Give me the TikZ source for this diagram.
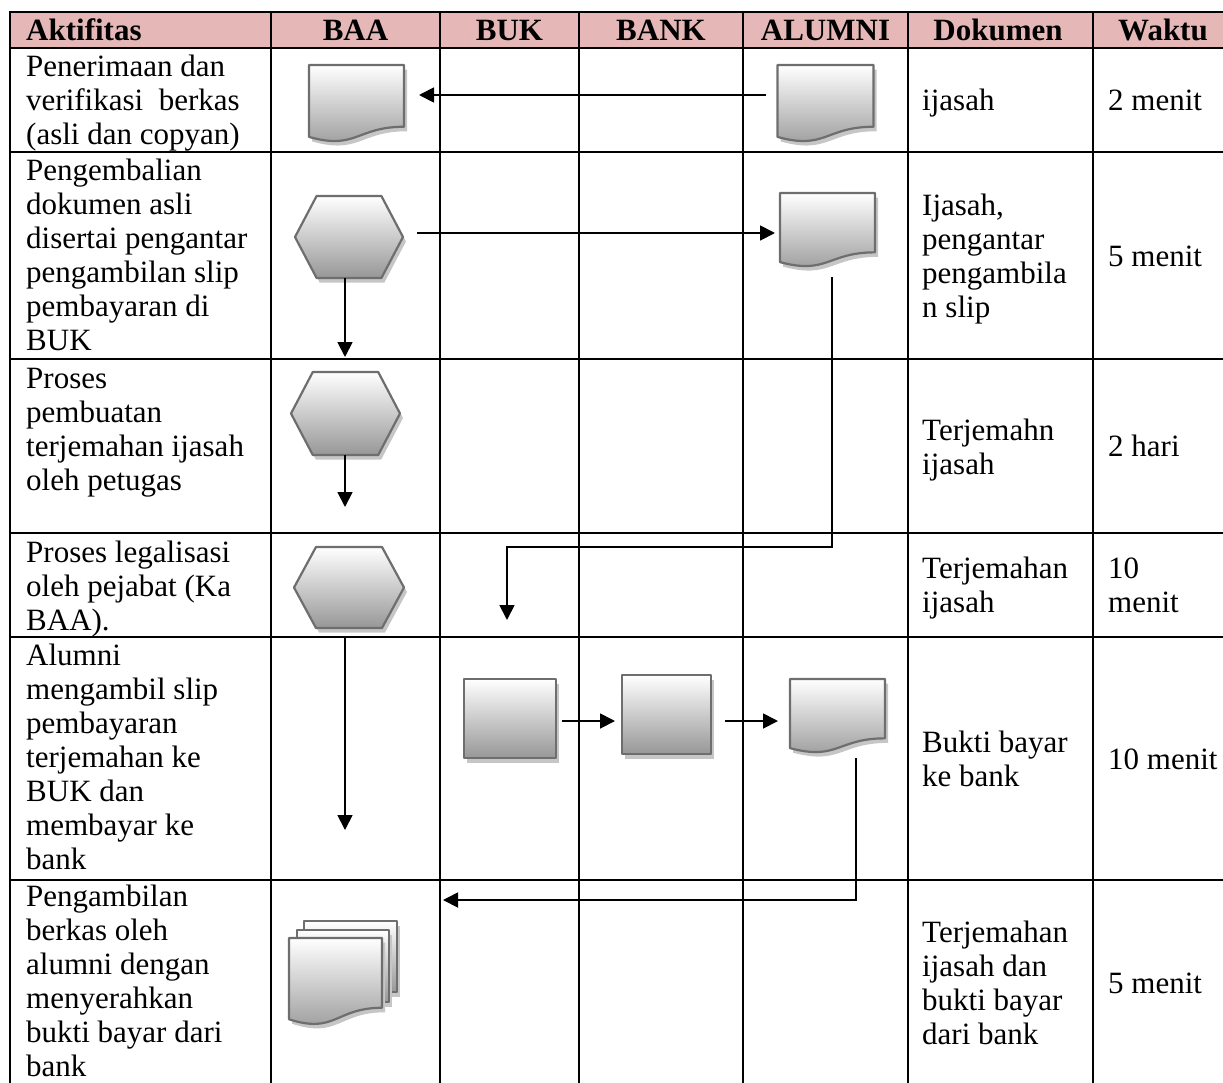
\documentclass[tikz,border=0pt]{standalone}
\usepackage{fontspec}
\setmainfont{Liberation Serif}
\usetikzlibrary{arrows.meta,calc}

\definecolor{headpink}{HTML}{E5B8B7}
\definecolor{shapeline}{HTML}{6E6E6E}
\definecolor{shapelow}{HTML}{979797}
\definecolor{shadowgray}{HTML}{C6C6C6}

\newcommand\cellfont{\fontsize{31}{34}\selectfont}
\newcommand\headfont{\fontsize{31}{34}\selectfont\bfseries}
\newcommand\cellstrut{\rule{0pt}{24pt}}

\tikzset{
  gridline/.style={line width=2.5pt, line cap=rect},
  shapebody/.style={preaction={fill=shadowgray, transform canvas={xshift=3pt,yshift=-4.5pt}},
    draw=shapeline, line width=2.2pt, line join=round, top color=white, bottom color=shapelow},
  shapebox/.style={inner sep=0pt, outer sep=0pt, draw=none, rectangle},
  cell/.style={anchor=north west, inner sep=0pt, align=left, font=\cellfont},
  head/.style={anchor=base, inner sep=0pt, font=\headfont},
  flowline/.style={line width=1.8pt},
  flowarrow/.style={flowline, -{Triangle[length=15pt,width=15pt]}},
}

% text cell: name, left x, first baseline y, lines
\newcommand\tcell[4]{\node[cell] (#1) at (#2,{#3-24}) {\cellstrut#4};}

% document symbol: name, centre x, centre y, width, height
\newcommand\docshape[5]{%
  \path[shapebody] ({#2-#4/2},{#3-#5/2}) -- ({#2+#4/2},{#3-#5/2})
    -- ({#2+#4/2},{#3+0.302*#5})
    .. controls ({#2},{#3+0.302*#5}) and ({#2},{#3+0.6075*#5}) .. ({#2-#4/2},{#3+0.434*#5}) -- cycle;
  \node[shapebox, minimum width=#4pt, minimum height=#5pt] (#1) at (#2,#3) {};}

% preparation (hexagon) symbol
\newcommand\hexshape[5]{%
  \path[shapebody] ({#2-#4/2},#3) -- ({#2-0.3*#4},{#3-#5/2}) -- ({#2+0.3*#4},{#3-#5/2})
    -- ({#2+#4/2},#3) -- ({#2+0.3*#4},{#3+#5/2}) -- ({#2-0.3*#4},{#3+#5/2}) -- cycle;
  \node[shapebox, minimum width=#4pt, minimum height=#5pt] (#1) at (#2,#3) {};}

% process (rectangle) symbol
\newcommand\procshape[5]{%
  \path[shapebody] ({#2-#4/2},{#3-#5/2}) rectangle ({#2+#4/2},{#3+#5/2});
  \node[shapebox, minimum width=#4pt, minimum height=#5pt] (#1) at (#2,#3) {};}

\begin{document}
\begin{tikzpicture}[x=1pt,y=-1pt]
\useasboundingbox (0,0) rectangle (1223,1082);

% header band and table grid
\fill[headpink] (10,12) rectangle (1223,48);
\foreach \r in {12,48,152,359,533,637,880} \draw[gridline] (10,\r) -- (1223,\r);
\foreach \c in {10,271,440,579,743,908,1093} \draw[gridline] (\c,12) -- (\c,1082);

% header
\node[head, anchor=base west] (hAkt) at (26,40) {Aktifitas};
\node[head] (hBAA) at (355.5,40) {BAA};
\node[head] (hBUK) at (509.5,40) {BUK};
\node[head] (hBANK) at (661,40) {BANK};
\node[head] (hALU) at (825.5,40) {ALUMNI};
\node[head] (hDok) at (998,40) {Dokumen};
\node[head] (hWak) at (1163,40) {Waktu};

% activities
\tcell{a1}{26}{76}{Penerimaan dan\\verifikasi~ berkas\\(asli dan copyan)}
\tcell{a2}{26}{180}{Pengembalian\\dokumen asli\\disertai pengantar\\pengambilan slip\\pembayaran di\\BUK}
\tcell{a3}{26}{388}{Proses\\pembuatan\\terjemahan ijasah\\oleh petugas}
\tcell{a4}{26}{562}{Proses legalisasi\\oleh pejabat (Ka\\BAA).}
\tcell{a5}{26}{665}{Alumni\\mengambil slip\\pembayaran\\terjemahan ke\\BUK dan\\membayar ke\\bank}
\tcell{a6}{26}{906}{Pengambilan\\berkas oleh\\alumni dengan\\menyerahkan\\bukti bayar dari\\bank}

% documents
\tcell{k1}{922}{110}{ijasah}
\tcell{k2}{922}{215}{Ijasah,\\pengantar\\pengambila\\n slip}
\tcell{k3}{922}{440}{Terjemahn\\ijasah}
\tcell{k4}{922}{578}{Terjemahan\\ijasah}
\tcell{k5}{922}{752}{Bukti bayar\\ke bank}
\tcell{k6}{922}{942}{Terjemahan\\ijasah dan\\bukti bayar\\dari bank}

% time
\tcell{w1}{1108}{110}{2 menit}
\tcell{w2}{1108}{266}{5 menit}
\tcell{w3}{1108}{456}{2 hari}
\tcell{w4}{1108}{578}{10\\menit}
\tcell{w5}{1108}{769}{10 menit}
\tcell{w6}{1108}{993}{5 menit}

% flow symbols
\docshape{bd1}{356.5}{103.5}{95}{77}
\docshape{ad1}{825.5}{103.5}{96}{77}
\hexshape{h2}{349}{237}{108}{82}
\docshape{ad2}{827.5}{230}{95}{74}
\hexshape{h3}{345.5}{413.5}{109}{83}
\hexshape{h4}{349}{587.5}{110}{81}
\procshape{p5a}{510}{718.5}{92}{79}
\procshape{p5b}{666.5}{714.5}{89}{79}
\docshape{ad5}{837.5}{716}{95}{74}
% stacked documents
\path[shapebody] (304,921) rectangle (397,992);
\path[shapebody] (297,930) rectangle (389,1002);
\docshape{md6}{335.5}{981.5}{93}{87}

% free ends of connectors
\coordinate (e3) at (345,357);
\coordinate (e4) at (345,507);
\coordinate (e5) at (507,620);
\coordinate (e6) at (345,830);
\coordinate (e9) at (443,900);

% connectors
\draw[flowarrow] ($(ad1.west)+(-12,-8.5)$) -- ($(bd1.east)+(15,-8.5)$);
\draw[flowarrow] ($(h2.east)+(14,-4)$) -- ($(h2.east -| ad2.west)+(-5,-4)$);
\draw[flowarrow] (h2.south -| e3) -- (e3);
\draw[flowarrow] (h3.south -| e4) -- (e4);
\draw[flowarrow] ($(ad2.south)+(4.5,10)$) |- ($(e5)+(0,-73)$) -- (e5);
\draw[flowarrow] ($(h4.south -| e6)+(0,8)$) -- (e6);
\draw[flowarrow] ($(p5a.east)+(6,2.5)$) -- ($(p5a.east -| p5b.west)+(-7,2.5)$);
\draw[flowarrow] ($(p5b.east)+(14,6.5)$) -- ($(p5b.east -| ad5.west)+(-12,6.5)$);
\draw[flowarrow] ($(ad5.south)+(18.5,5)$) |- (e9);
\end{tikzpicture}
\end{document}
